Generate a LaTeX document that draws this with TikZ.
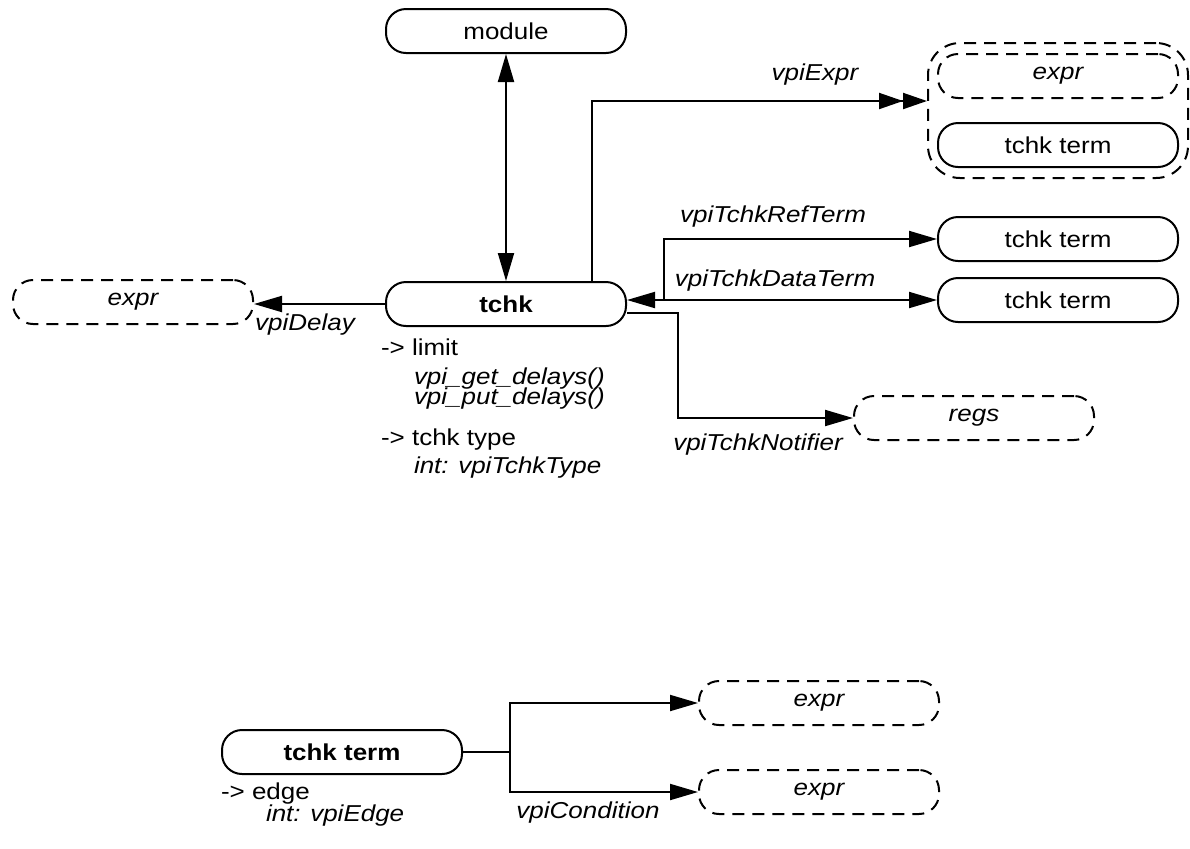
\documentclass[tikz,border=0pt]{standalone}
\usepackage{fontspec}
\setmainfont{Liberation Sans}[FakeStretch=1.13]
\usetikzlibrary{arrows.meta, fit}
\newcommand{\diagfont}{\fontsize{11.5}{12}\selectfont}

\begin{document}
\begin{tikzpicture}[x=0.5pt, y=-0.5pt, line width=1pt, font=\diagfont, >={Triangle[length=14pt, width=8pt]},
  objbox/.style={draw, line width=1pt, rounded corners=10pt, minimum width=120pt, minimum height=22pt, inner sep=0pt},
  refbox/.style={objbox, dash pattern=on 6pt off 4pt, font=\diagfont\itshape},
  grpbox/.style={draw, line width=1pt, dash pattern=on 6pt off 4pt, rounded corners=16pt, inner xsep=4.5pt, inner ysep=5pt},
  lbl/.style={font=\diagfont\itshape, inner sep=0pt},
  attr/.style={anchor=west, inner sep=0pt},
  attrsub/.style={attr, font=\diagfont\itshape}]
  \useasboundingbox (0,0) rectangle (1190,848);
  \node[objbox] (module) at (506,31) {module};
  \node[objbox, font=\diagfont\bfseries] (tchk) at (506,304) {tchk};
  \node[refbox] (dlyexpr) at (133,302) {expr};
  \node[refbox] (grpexpr) at (1058,76) {expr};
  \node[objbox] (grpterm) at (1058,145) {tchk term};
  \node[grpbox, fit=(grpexpr)(grpterm)] (grp) {};
  \node[objbox] (refterm) at (1058,239) {tchk term};
  \node[objbox] (dataterm) at (1058,300) {tchk term};
  \node[refbox] (regs) at (974,418) {regs};
  \coordinate (exprup) at (592,0);
  \coordinate (refjoin) at (664,300);
  \draw[<->] (module) -- (tchk);
  \draw[->] (tchk.west) -- (tchk.west -| dlyexpr.east);
  \draw[-{Triangle[length=12pt, width=8pt] Triangle[length=12pt, width=8pt]}] (tchk.north -| exprup) |- ([yshift=4.75pt]grp.west);
  \draw[<->] (tchk.east |- dataterm.west) -- (dataterm.west);
  \draw[->] (refjoin) |- (refterm.west);
  \draw[->] ([yshift=-4.5pt]tchk.east) -- ++(51,0) |- (regs.west);
  \node[lbl] (lexpr) at (815,75) {vpiExpr};
  \node[lbl] (lref) at (773,217) {vpiTchkRefTerm};
  \node[lbl] (ldata) at (775,281) {vpiTchkDataTerm};
  \node[lbl] (lnotif) at (758,445) {vpiTchkNotifier};
  \node[lbl] (ldelay) at (305,325) {vpiDelay};
  \node[attr] (alimit) at (380,347) {-> limit};
  \node[attrsub] (aget) at (413,379) {vpi\_get\_delays()};
  \node[attrsub] (aput) at (413,399) {vpi\_put\_delays()};
  \node[attr] (atype) at (380,440) {-> tchk type};
  \node[attrsub] (atypeint) at (413,468) {int: vpiTchkType};
  \node[objbox, font=\diagfont\bfseries] (edgeterm) at (342,752) {tchk term};
  \node[refbox] (condA) at (819,703) {expr};
  \node[refbox] (condB) at (819,792) {expr};
  \coordinate (split) at (510,752);
  \draw (edgeterm.east) -- (split);
  \draw[->] (split) |- (condA.west);
  \draw[->] (split) |- (condB.west);
  \node[lbl] (lcond) at (588,813) {vpiCondition};
  \node[attr] (aedge) at (220,794) {-> edge};
  \node[attrsub] (aedgeint) at (265,816) {int: vpiEdge};
\end{tikzpicture}
\end{document}
